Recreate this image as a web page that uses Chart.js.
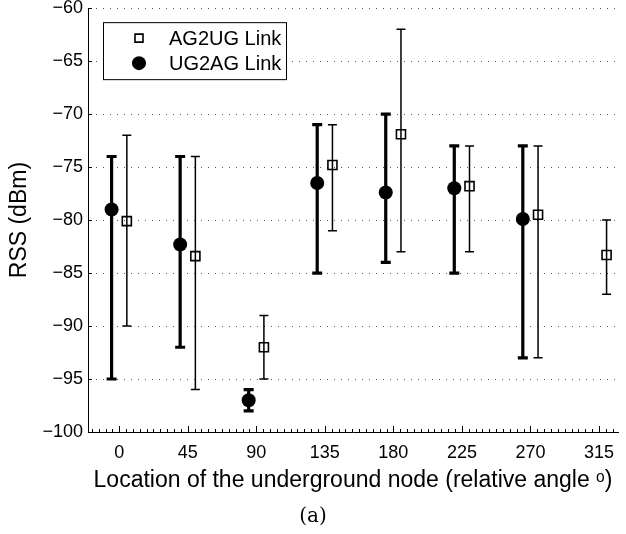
<!DOCTYPE html>
<html>
<head>
<meta charset="utf-8">
<script src="https://cdn.jsdelivr.net/npm/chart.js@4"></script>
<style>
  html, body { margin: 0; padding: 0; background: #fff; }
  #wrap { width: 626px; height: 534px; }
</style>
</head>
<body>
<div id="wrap"><canvas id="rssChart" width="626" height="534"></canvas></div>
<script>
const angles = [0, 45, 90, 135, 180, 225, 270, 315];

const ag2ugMean = [-80.1, -83.4, -92, -74.8, -71.9, -76.8, -79.5, -83.3];
const ag2ugHigh = [-72, -74, -89, -71, -62, -73, -73, -80];
const ag2ugLow = [-90, -96, -95, -81, -83, -83, -93, -87];

const ug2agMean = [-79, -82.3, -97, -76.5, -77.4, -77, -79.9, null];
const ug2agHigh = [-74, -74, -96, -71, -70, -73, -73, null];
const ug2agLow = [-95, -92, -98, -85, -84, -85, -93, null];

const yTicks = [-100, -95, -90, -85, -80, -75, -70, -65, -60];

const FONT = "'Liberation Sans', Arial, Helvetica, sans-serif";
const DODGE = 5; // side-by-side shift of the two series, in degrees

function points(mean, shift) {
    return angles.map((a, i) => mean[i] == null ? null : { x: a + shift, y: mean[i] }).filter(p => p);
}

// vertical error bars with caps, drawn under the markers
const errorBars = {
    id: 'errorBars',
    beforeDatasetsDraw(chart) {
        const ctx = chart.ctx, xs = chart.scales.x, ys = chart.scales.y;
        chart.data.datasets.forEach(ds => {
            ctx.save();
            ctx.strokeStyle = '#000';
            ctx.lineWidth = ds.barWidth;
            ds.data.forEach((p, i) => {
                const k = angles.indexOf(p.x - ds.shift);
                const x = xs.getPixelForValue(p.x);
                const top = ys.getPixelForValue(ds.high[k]);
                const bot = ys.getPixelForValue(ds.low[k]);
                ctx.beginPath();
                ctx.moveTo(x, top); ctx.lineTo(x, bot);
                ctx.moveTo(x - ds.capWidth / 2, top); ctx.lineTo(x + ds.capWidth / 2, top);
                ctx.moveTo(x - ds.capWidth / 2, bot); ctx.lineTo(x + ds.capWidth / 2, bot);
                ctx.stroke();
            });
            ctx.restore();
        });
    }
};

// matlab style inward ticks + boxed legend
const frame = {
    id: 'frame',
    afterDraw(chart) {
        const ctx = chart.ctx, xs = chart.scales.x, ys = chart.scales.y, area = chart.chartArea;
        ctx.save();
        ctx.strokeStyle = '#000';
        ctx.lineWidth = 1;
        ctx.beginPath();
        yTicks.forEach(v => {
            const y = Math.round(ys.getPixelForValue(v)) + 0.5;
            ctx.moveTo(area.left, y); ctx.lineTo(area.left + 4, y);
        });
        for (let v = -18; v <= xs.max; v += 4.5) {
            const x = Math.round(xs.getPixelForValue(v)) + 0.5;
            const major = angles.includes(v);
            ctx.moveTo(x, area.bottom); ctx.lineTo(x, area.bottom - (major ? 6 : 3));
        }
        ctx.stroke();

        // legend
        const lx = area.left + 15, ly = area.top + 14;
        ctx.fillStyle = '#fff';
        ctx.fillRect(lx, ly, 183, 57);
        ctx.strokeRect(lx + 0.5, ly + 0.5, 183, 57);
        ctx.font = '20px ' + FONT;
        ctx.textBaseline = 'middle';
        ctx.textAlign = 'left';
        chart.data.datasets.forEach((ds, i) => {
            const cy = ly + 16 + i * 25;
            const cx = lx + 36;
            ctx.lineWidth = ds.pointBorderWidth;
            ctx.fillStyle = ds.pointBackgroundColor;
            ctx.strokeStyle = '#000';
            ctx.beginPath();
            if (ds.pointStyle === 'rect') {
                ctx.rect(cx - 4, cy - 4, 8, 8);
                ctx.stroke();
            } else {
                ctx.arc(cx, cy, 7, 0, Math.PI * 2);
                ctx.fill();
            }
            ctx.fillStyle = '#000';
            ctx.fillText(ds.label, lx + 66, cy + 1);
        });
        ctx.restore();
    }
};

new Chart(document.getElementById('rssChart'), {
    type: 'scatter',
    data: {
        datasets: [
            { label: 'AG2UG Link', data: points(ag2ugMean, DODGE), shift: DODGE, high: ag2ugHigh, low: ag2ugLow,
              barWidth: 1.5, capWidth: 9, pointStyle: 'rect', pointRadius: 6.4, pointBorderWidth: 1.6,
              pointBorderColor: '#000', pointBackgroundColor: 'rgba(0,0,0,0)' },
            { label: 'UG2AG Link', data: points(ug2agMean, -DODGE), shift: -DODGE, high: ug2agHigh, low: ug2agLow,
              barWidth: 3.2, capWidth: 10, pointStyle: 'circle', pointRadius: 7, pointBorderWidth: 0,
              pointBorderColor: '#000', pointBackgroundColor: '#000' }
        ]
    },
    options: {
        responsive: false,
        animation: false,
        layout: { padding: { top: 8, left: 0, right: 0, bottom: 0 } },
        plugins: {
            legend: { display: false },
            tooltip: { enabled: false },
            subtitle: {
                display: true, position: 'bottom', text: '(a)', color: '#000',
                font: { family: "'DejaVu Serif', 'Liberation Serif', serif", size: 20 },
                padding: { top: 8, bottom: 5 }
            }
        },
        scales: {
            x: {
                type: 'linear', min: -20.5, max: 327.5,
                afterBuildTicks: axis => { axis.ticks = angles.map(v => ({ value: v })); },
                afterFit: axis => { axis.height = 65; },
                grid: { display: false, drawTicks: false },
                border: { display: true, color: '#000', width: 1 },
                ticks: { color: '#000', padding: 10, maxRotation: 0, font: { family: FONT, size: 18 } },
                title: { display: true, text: 'Location of the underground node (relative angle \u1d52)', color: '#000',
                         font: { family: FONT, size: 23 }, padding: { top: 0, bottom: 3 } }
            },
            y: {
                min: -100, max: -60,
                afterBuildTicks: axis => { axis.ticks = yTicks.map(v => ({ value: v })); },
                afterFit: axis => { axis.width = 88; },
                grid: { color: '#555', lineWidth: 1, drawTicks: false },
                border: { display: true, color: '#000', width: 1, dash: [1, 6] },
                ticks: { color: '#000', padding: 5, font: { family: FONT, size: 18, lineHeight: 0.35 },
                         callback: v => String(v).replace('-', '\u2212') },
                title: { display: true, text: 'RSS (dBm)', color: '#000',
                         font: { family: FONT, size: 23 }, padding: { top: 6, bottom: 0 } }
            }
        }
    },
    plugins: [errorBars, frame]
});
</script>
</body>
</html>
